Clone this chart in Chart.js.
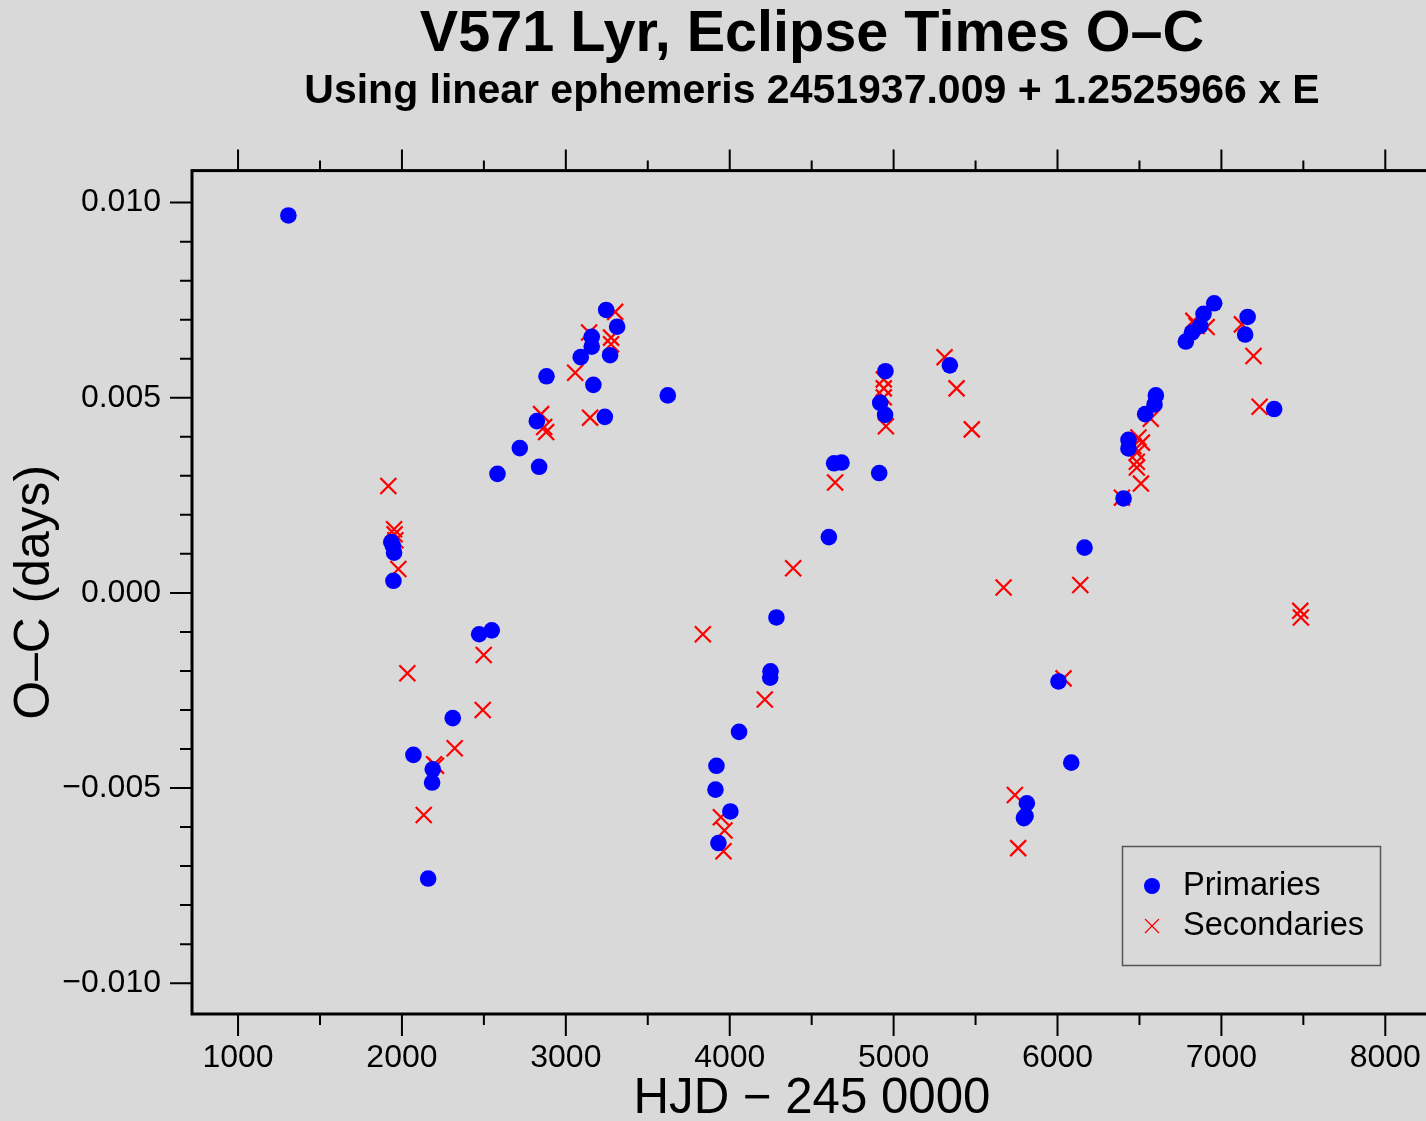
<!DOCTYPE html>
<html><head><meta charset="utf-8">
<script src="https://cdn.jsdelivr.net/npm/chart.js@4.4.0/dist/chart.umd.min.js"></script>
<style>
html,body{margin:0;padding:0;background:#d9d9d9;overflow:hidden;width:1426px;height:1121px}
#wrap{width:1426px;height:1121px;overflow:hidden}
canvas{display:block}
</style></head><body>
<div id="wrap"><canvas id="c" width="1440" height="1121" style="width:1440px;height:1121px"></canvas></div>
<script>
// ---- data (HJD - 2450000, O-C in days) ----
const primX = [1307,1935,1945,1952,1948,2160,2070,2184,2188,2310,2471,2548,2583,2719,2823,2837,2882,3091,3158,3158,3168,3238,3246,3270,3313,3622,3913,3919,3931,4004,4057,4247,4249,4285,4605,4637,4682,4912,4918,4948,4950,5343,5795,5805,5813,6006,6084,6165,6403,6433,6433,6535,6592,6600,6783,6820,6871,6891,6956,7145,7160,7322];
const primY = [0.00967,0.00130,0.00120,0.00103,0.00031,-0.00732,-0.00415,-0.00486,-0.00452,-0.00321,-0.00106,-0.00096,0.00305,0.00371,0.00440,0.00323,0.00555,0.00604,0.00656,0.00631,0.00533,0.00451,0.00725,0.00609,0.00682,0.00506,-0.00504,-0.00443,-0.00641,-0.00560,-0.00356,-0.00217,-0.00201,-0.00063,0.00143,0.00332,0.00334,0.00307,0.00487,0.00456,0.00568,0.00583,-0.00577,-0.00572,-0.00539,-0.00227,-0.00435,0.00116,0.00242,0.00370,0.00392,0.00458,0.00483,0.00506,0.00644,0.00667,0.00684,0.00715,0.00742,0.00662,0.00707,0.00471];
const secX = [1917,1952,1955,1960,1978,2033,2133,2196,2208,2322,2493,2499,2849,2868,2880,3057,3142,3148,3276,3276,3301,3836,3946,3962,3968,4214,4387,4643,4940,4940,4940,4953,5311,5384,5477,5671,5740,5760,6037,6139,6393,6463,6484,6484,6484,6494,6509,6515,6569,6829,6849,6910,7125,7196,7233,7481,7485];
const secY = [0.00274,0.00163,0.00150,0.00135,0.00061,-0.00206,-0.00569,-0.00439,-0.00443,-0.00398,-0.00300,-0.00159,0.00458,0.00425,0.00412,0.00564,0.00667,0.00449,0.00654,0.00637,0.00720,-0.00106,-0.00575,-0.00662,-0.00609,-0.00273,0.00063,0.00283,0.00547,0.00524,0.00501,0.00427,0.00604,0.00524,0.00419,0.00014,-0.00518,-0.00654,-0.00219,0.00020,0.00244,0.00376,0.00359,0.00336,0.00321,0.00398,0.00280,0.00385,0.00446,0.00697,0.00684,0.00681,0.00688,0.00607,0.00477,-0.00046,-0.00063];

const xTickValues = [1000,2000,3000,4000,5000,6000,7000,8000];
const xTickLabels = ['1000','2000','3000','4000','5000','6000','7000','8000'];
const yTickValues = [-0.010,-0.005,0.000,0.005,0.010];
const yTickLabels = ['\u22120.010','\u22120.005','0.000','0.005','0.010'];
const xMinorValues = [1500,2500,3500,4500,5500,6500,7500];
const yMinorValues = [-0.009,-0.008,-0.007,-0.006,-0.004,-0.003,-0.002,-0.001,0.001,0.002,0.003,0.004,0.006,0.007,0.008,0.009];

const titleText = 'V571 Lyr, Eclipse Times O\u2013C';
const subtitleText = 'Using linear ephemeris 2451937.009 + 1.2525966 x E';
const legendLabels = ['Primaries','Secondaries'];

const FONT = '"Liberation Sans", Arial, Helvetica, sans-serif';

const framePlugin = {
  id: 'frame',
  afterDraw(chart) {
    const {ctx, chartArea: {left, top, right, bottom}, scales: {x, y}} = chart;
    ctx.save();
    ctx.strokeStyle = '#000';
    ctx.lineWidth = 2;
    ctx.beginPath();
    xTickValues.forEach(v => {
      const p = x.getPixelForValue(v);
      ctx.moveTo(p, bottom); ctx.lineTo(p, bottom + 22);
      ctx.moveTo(p, top); ctx.lineTo(p, top - 21);
    });
    xMinorValues.forEach(v => {
      const p = x.getPixelForValue(v);
      ctx.moveTo(p, bottom); ctx.lineTo(p, bottom + 11);
      ctx.moveTo(p, top); ctx.lineTo(p, top - 10);
    });
    yTickValues.forEach(v => {
      const p = y.getPixelForValue(v);
      ctx.moveTo(left, p); ctx.lineTo(left - 22, p);
      ctx.moveTo(right, p); ctx.lineTo(right + 22, p);
    });
    yMinorValues.forEach(v => {
      const p = y.getPixelForValue(v);
      ctx.moveTo(left, p); ctx.lineTo(left - 12, p);
      ctx.moveTo(right, p); ctx.lineTo(right + 12, p);
    });
    ctx.stroke();
    ctx.lineWidth = 3;
    ctx.strokeRect(left, top, right - left, bottom - top);

    // legend box
    const lx = 1122.5, ly = 846.5, lw = 258, lh = 119;
    ctx.lineWidth = 1.5;
    ctx.strokeStyle = '#555';
    ctx.strokeRect(lx, ly, lw, lh);
    ctx.fillStyle = '#0000ff';
    ctx.beginPath(); ctx.arc(1152, 886, 8, 0, Math.PI * 2); ctx.fill();
    ctx.strokeStyle = '#ff0000';
    ctx.lineWidth = 1.2;
    ctx.beginPath();
    ctx.moveTo(1145, 919); ctx.lineTo(1159, 933);
    ctx.moveTo(1145, 933); ctx.lineTo(1159, 919);
    ctx.stroke();
    ctx.fillStyle = '#000';
    ctx.font = '32.6px ' + FONT;
    ctx.textAlign = 'left';
    ctx.textBaseline = 'middle';
    ctx.fillText(legendLabels[0], 1183, 886);
    ctx.fillText(legendLabels[1], 1183, 926);
    ctx.restore();
  }
};

new Chart(document.getElementById('c'), {
  type: 'scatter',
  data: {
    datasets: [
      {
        label: legendLabels[0],
        data: primX.map((v, i) => ({x: v, y: primY[i]})),
        pointStyle: 'circle',
        pointRadius: 8.3,
        pointBackgroundColor: '#0000ff',
        pointBorderWidth: 0,
        borderColor: '#0000ff'
      },
      {
        label: legendLabels[1],
        data: secX.map((v, i) => ({x: v, y: secY[i]})),
        pointStyle: 'crossRot',
        pointRadius: 11.3,
        pointBorderColor: '#ff0000',
        pointBorderWidth: 2.2,
        borderColor: '#ff0000'
      }
    ]
  },
  options: {
    responsive: false,
    animation: false,
    events: [],
    layout: {autoPadding: false, padding: {left: 0, right: 8, top: 0, bottom: 0}},
    plugins: {
      legend: {display: false},
      tooltip: {enabled: false},
      title: {
        display: true, text: titleText, color: '#000', fullSize: false,
        font: {family: FONT, size: 57.6, weight: 'bold', lineHeight: 1},
        padding: {top: 6.5, bottom: 0}
      },
      subtitle: {
        display: true, text: subtitleText, color: '#000', fullSize: false,
        font: {family: FONT, size: 41, weight: 'bold', lineHeight: 1},
        padding: {top: 7, bottom: 58.5}
      }
    },
    scales: {
      x: {
        type: 'linear', position: 'bottom',
        min: 719, max: 8285,
        afterBuildTicks: s => { s.ticks = xTickValues.map(v => ({value: v})); },
        afterFit: s => { s.height = 107; s.paddingLeft = 0; s.paddingRight = 0; },
        grid: {display: false, drawTicks: false},
        border: {display: false},
        ticks: {
          color: '#000', padding: 25, maxRotation: 0, autoSkip: false,
          font: {family: FONT, size: 32},
          callback: (v, i) => xTickLabels[i]
        },
        title: {
          display: true, text: 'HJD \u2212 245 0000', color: '#000',
          font: {family: FONT, size: 49.2, lineHeight: 0.875},
          padding: {top: 0, bottom: 0}
        }
      },
      y: {
        type: 'linear', position: 'left',
        min: -0.01079, max: 0.01082,
        afterBuildTicks: s => { s.ticks = yTickValues.map(v => ({value: v})); },
        afterFit: s => { s.width = 192; s.paddingTop = 0; s.paddingBottom = 0; },
        grid: {display: false, drawTicks: false},
        border: {display: false},
        ticks: {
          color: '#000', padding: 31, autoSkip: false,
          font: {family: FONT, size: 32},
          callback: (v, i) => yTickLabels[i]
        },
        title: {
          display: true, text: 'O\u2013C (days)', color: '#000',
          font: {family: FONT, size: 49.8, lineHeight: 1},
          padding: {top: 10, bottom: 0}
        }
      }
    }
  },
  plugins: [framePlugin]
});
</script>
</body></html>
